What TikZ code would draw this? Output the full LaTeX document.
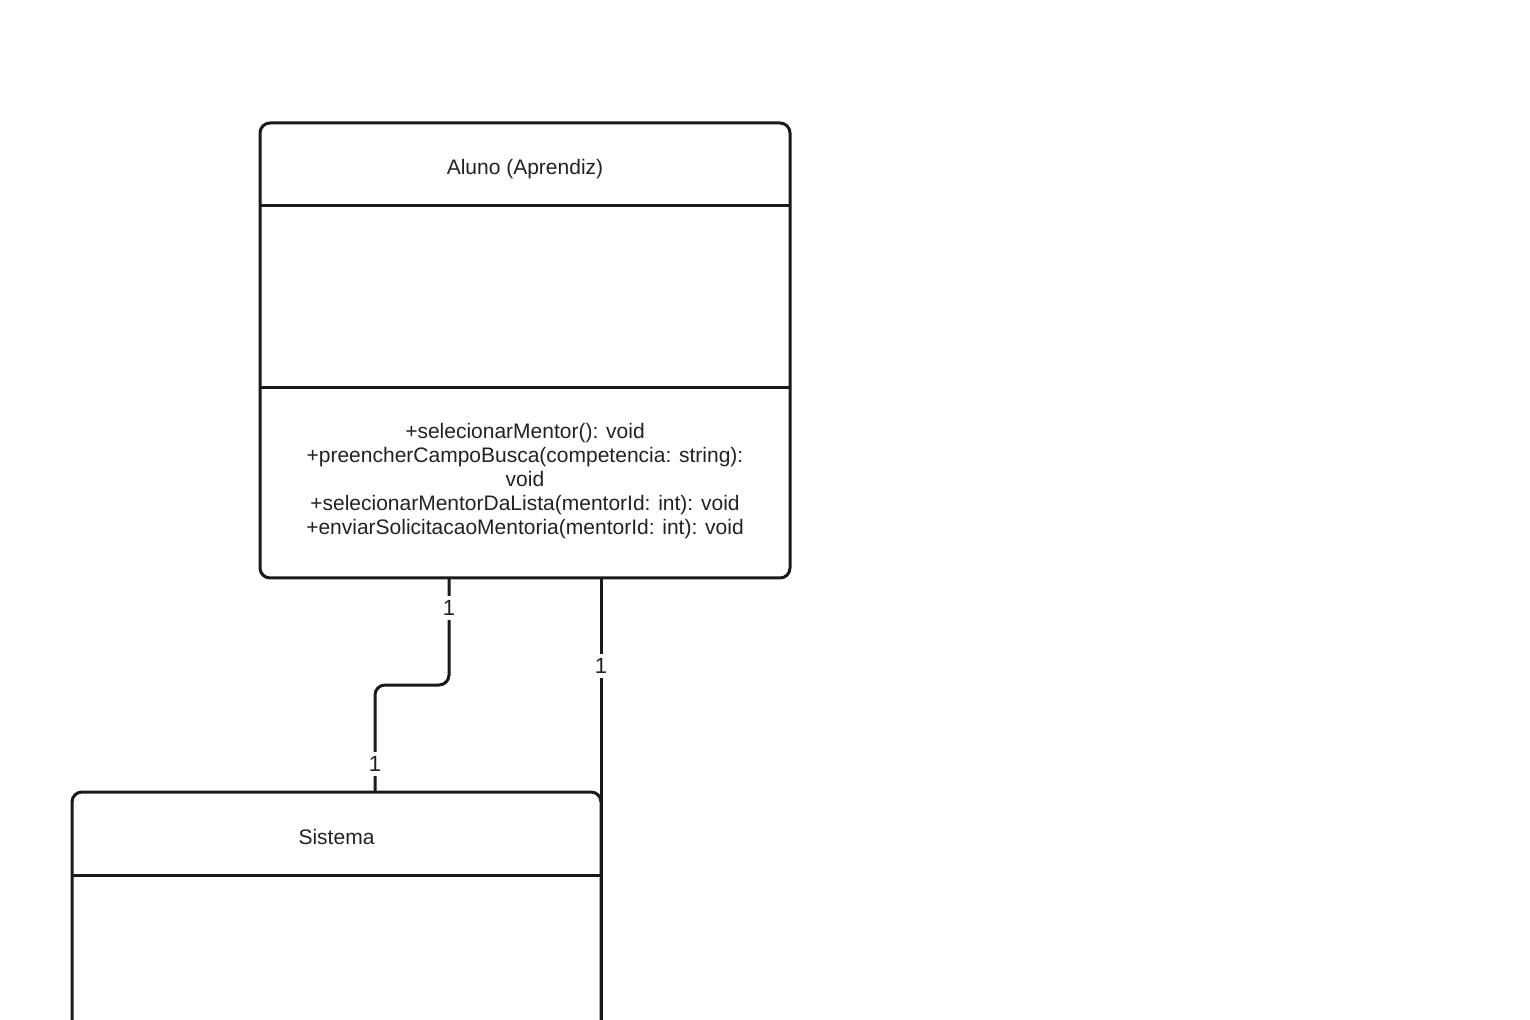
\documentclass[tikz,border=0pt]{standalone}
\usepackage{fontspec}
\setmainfont{Liberation Sans}
\usepackage{tikz}
\usetikzlibrary{calc}

\definecolor{traco}{HTML}{1A1A1A}
\definecolor{texto}{HTML}{222222}

\begin{document}
\begin{tikzpicture}[x=0.5pt, y=-0.5pt,
	classe/.style={rectangle, draw=traco, line width=1.5pt, rounded corners=5pt, inner sep=0pt, outer sep=0pt},
	rotulo/.style={text=texto, font=\fontsize{10.5}{12}\selectfont, align=center, inner sep=0pt},
	divisa/.style={draw=traco, line width=1.5pt},
	assoc/.style={draw=traco, line width=1.5pt, rounded corners=5pt},
	mult/.style={fill=white, text=texto, font=\fontsize{11}{12}\selectfont, inner xsep=1pt, inner ysep=2pt}]
			\useasboundingbox (0,0) rectangle (1530,1020);
			\clip (0,0) rectangle (1530,1020);
			
			% classes
			\node[classe, minimum width=265pt, minimum height=227.5pt] (aluno) at (525,350.5){};
			\node[classe, minimum width=264.5pt, minimum height=250pt] (sistema) at (336.5,1042){};
			
			\node[rotulo] (alunoNome) at (525,169){Aluno (Aprendiz)};
			\node[rotulo] (alunoMetodos) at (525,481){+selecionarMentor(): void\\
				+preencherCampoBusca(competencia: string):\\
				void\\
				+selecionarMentorDaLista(mentorId: int): void\\
				+enviarSolicitacaoMentoria(mentorId: int): void};
			\node[rotulo] (sistemaNome) at (336.5,837){Sistema};
			
			\path[divisa] ([yshift=-41.5pt]aluno.north west) -- ([yshift=-41.5pt]aluno.north east);
			\path[divisa] ([yshift=-132.5pt]aluno.north west) -- ([yshift=-132.5pt]aluno.north east);
			\path[divisa] ([yshift=-41.5pt]sistema.north west) -- ([yshift=-41.5pt]sistema.north east);
			
			% associacoes
			\coordinate (fim) at (601,1040);
			\path[assoc] ([xshift=-38pt]aluno.south) -- ++(0,107) -| ([xshift=19.25pt]sistema.north);
			\path[assoc] ([xshift=38pt]aluno.south) -- (sistema.east |- fim);
			
			\node[mult] (m1) at (449,608){1};
			\node[mult] (m2) at (375,764){1};
			\node[mult] (m3) at (601,666){1};
			\end{tikzpicture}
\end{document}
